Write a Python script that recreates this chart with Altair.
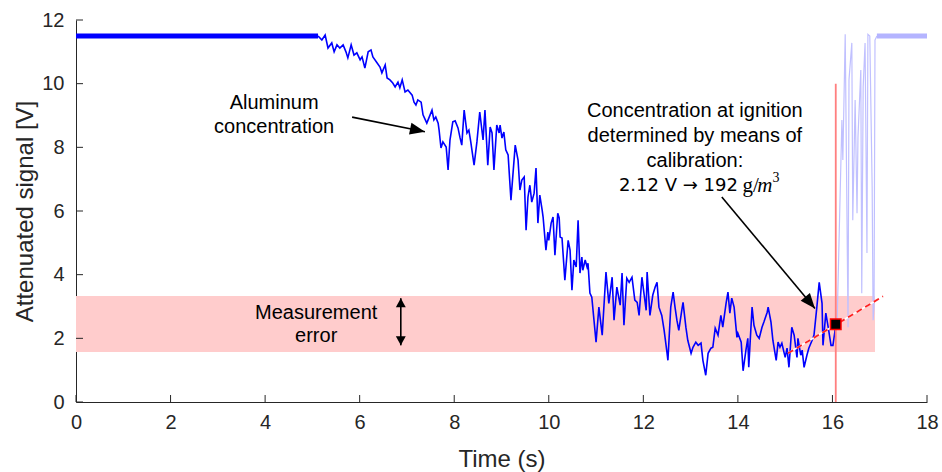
import altair as alt
import pandas as pd

# ---------------- data ----------------
t_main = [5.12,5.20,5.27,5.33,5.41,5.46,5.52,5.58,5.65,5.71,
          5.75,5.82,5.88,5.94,6.01,6.05,6.11,6.18,6.24,6.28,
          6.37,6.43,6.47,6.54,6.58,6.64,6.70,6.75,6.81,6.85,
          6.90,6.96,7.02,7.11,7.15,7.19,7.23,7.30,7.34,7.42,
          7.49,7.53,7.57,7.61,7.66,7.68,7.72,7.76,7.83,7.87,
          7.91,7.97,8.02,8.08,8.12,8.16,8.21,8.27,8.31,8.35,
          8.42,8.48,8.54,8.61,8.65,8.71,8.76,8.80,8.84,8.90,
          8.95,8.97,9.01,9.05,9.09,9.14,9.20,9.29,9.35,9.39,
          9.43,9.48,9.52,9.56,9.60,9.64,9.69,9.73,9.77,9.81,
          9.86,9.88,9.94,9.98,10.00,10.05,10.09,10.13,10.19,10.22,
          10.24,10.28,10.34,10.41,10.45,10.49,10.53,10.58,10.62,10.66,
          10.70,10.72,10.77,10.81,10.83,10.87,10.91,11.00,11.06,11.13,
          11.21,11.27,11.34,11.38,11.44,11.51,11.55,11.59,11.65,11.70,
          11.76,11.82,11.87,11.91,11.97,12.01,12.06,12.08,12.14,12.20,
          12.25,12.29,12.33,12.39,12.44,12.50,12.52,12.58,12.63,12.67,
          12.71,12.75,12.82,12.84,12.90,12.94,13.01,13.05,13.11,13.16,
          13.22,13.26,13.32,13.37,13.43,13.47,13.52,13.58,13.64,13.68,
          13.75,13.79,13.83,13.87,13.92,13.98,14.00,14.07,14.11,14.17,
          14.21,14.23,14.30,14.34,14.40,14.45,14.51,14.55,14.62,14.64,
          14.70,14.74,14.81,14.85,14.89,14.93,15.00,15.04,15.08,15.14,
          15.19,15.25,15.27,15.33,15.36,15.40,15.46,15.50,15.57,15.61,
          15.67,15.72,15.78,15.80,15.86,15.91,15.97,16.01,16.05,16.07]
v_main = [11.50,11.37,11.53,11.12,11.28,11.00,11.22,11.12,11.22,11.00,
          10.81,11.22,10.90,10.97,10.75,10.84,10.49,11.00,11.06,10.84,
          10.65,10.52,10.34,10.59,10.18,10.12,10.02,9.90,10.05,9.87,
          10.12,9.74,9.80,9.64,9.42,9.33,9.49,9.42,9.02,8.76,
          9.02,9.17,8.86,8.95,8.76,8.54,7.98,8.17,8.01,7.29,
          8.23,8.80,8.83,8.61,8.32,8.07,9.17,8.45,8.54,8.17,
          7.44,8.17,9.11,8.23,9.17,7.44,8.64,8.45,7.29,8.70,
          8.45,8.70,8.29,8.48,7.92,7.76,6.34,8.07,7.60,6.66,
          6.97,7.07,5.40,6.44,6.81,6.28,6.56,7.35,5.62,6.50,
          6.03,5.81,4.77,5.34,5.08,5.62,5.81,4.61,5.93,5.78,
          5.18,5.15,3.83,5.08,4.77,3.51,4.46,4.24,5.71,4.05,
          4.55,4.14,4.46,4.24,4.36,3.42,3.29,1.88,2.98,2.10,
          4.08,3.10,3.92,2.57,3.61,3.04,4.05,2.41,3.89,3.76,
          3.92,3.20,3.13,2.72,3.92,3.45,2.88,4.08,2.72,3.36,
          3.61,3.76,2.98,2.72,2.25,1.56,1.31,2.98,3.45,2.98,
          2.57,2.25,2.95,3.13,2.35,1.94,1.53,1.72,1.88,1.78,
          1.85,1.31,0.84,1.53,1.69,1.72,2.32,2.10,2.72,2.35,
          3.10,3.45,2.79,3.26,2.98,2.03,2.16,1.88,0.98,1.63,
          2.00,1.09,2.98,2.41,2.10,2.00,2.35,2.51,2.82,2.98,
          2.51,1.94,1.31,1.88,1.72,1.85,1.40,1.69,1.09,2.35,
          2.10,1.40,2.00,1.47,1.63,1.09,1.47,1.69,1.94,2.10,
          2.98,3.76,3.10,1.78,2.79,2.35,1.78,1.78,2.19,2.44]

# flat (saturated) part before the cloud arrives
t_flat = [0.0, 5.12]
v_flat = [11.5, 11.5]

# signal after ignition (faded)
t_after = [16.07,16.10,16.20,16.22,16.27,16.33,16.35,16.41,16.43,16.48,16.52,16.54,
           16.60,16.62,16.65,16.69,16.73,16.75,16.79,16.84,16.86,16.88,16.90,16.94]
v_after = [2.44,2.57,8.86,7.60,11.55,2.35,10.12,11.28,5.71,9.49,5.93,8.32,
           10.43,3.42,9.90,11.28,4.68,11.55,11.50,6.75,2.57,2.98,11.37,11.50]
t_after_flat = [16.94, 18.0]
v_after_flat = [11.5, 11.5]

# measurement-error band
band_t = [0.0, 16.9]
band_v = [1.57, 3.33]

# ignition
ign_t = [16.07]
ign_v = [2.44]
ign_top = [10.0]

# trend line through the ignition point
fit_t = [15.06, 17.07]
fit_v = [1.53, 3.32]

x_ticks = [0, 2, 4, 6, 8, 10, 12, 14, 16, 18]
y_ticks = [0, 2, 4, 6, 8, 10, 12]

# annotations (data coordinates)
ann_labels = ["Aluminum", "concentration", "Measurement", "error",
              "Concentration at ignition", "determined by means of", "calibration:"]
ann_t = [4.19, 4.19, 5.08, 5.08, 13.09, 13.09, 13.09]
ann_v = [9.39, 8.64, 2.79, 2.07, 9.14, 8.35, 7.57]

arrow_t0 = [5.84, 13.66]
arrow_v0 = [8.95, 6.44]
arrow_t1 = [7.38, 15.63]
arrow_v1 = [8.49, 2.94]
arrow_angle = [11.6, 50.0]

dbl_t = [6.87]
dbl_top = [3.26]
dbl_bot = [1.78]

# ---------------- chart ----------------
FONT = "Liberation Sans"
W, H = 851, 382
xs = alt.Scale(domain=[0, 18], nice=False, zero=False)
ys = alt.Scale(domain=[0, 12], nice=False, zero=False)

AX = alt.Axis(
    values=x_ticks, ticks=False, grid=False, labelFlush=False,
    domainColor="#262626", domainWidth=1,
    labelFont=FONT, labelFontSize=20, labelColor="#262626", labelPadding=10,
    title="Time (s)", titleFont=FONT, titleFontSize=24, titleFontWeight="normal",
    titleColor="#262626", titleX=W / 2, titleY=57, titleBaseline="middle")
AY = alt.Axis(
    values=y_ticks, ticks=False, grid=False, labelFlush=False,
    domainColor="#262626", domainWidth=1,
    labelFont=FONT, labelFontSize=20, labelColor="#262626", labelPadding=12,
    title="Attenuated signal [V]", titleFont=FONT, titleFontSize=24,
    titleFontWeight="normal", titleColor="#262626", titleAngle=270,
    titleX=-51, titleY=H / 2, titleBaseline="middle", titleAlign="center")

main_df = pd.DataFrame({"t": t_main, "v": v_main})
flat_df = pd.DataFrame({"t": t_flat, "v": v_flat})
after_df = pd.DataFrame({"t": t_after, "v": v_after})
after_flat_df = pd.DataFrame({"t": t_after_flat, "v": v_after_flat})
band_df = pd.DataFrame({"t": [band_t[0]], "t2": [band_t[1]], "v": [band_v[0]], "v2": [band_v[1]]})
ign_df = pd.DataFrame({"t": ign_t, "v": ign_v, "top": ign_top, "zero": [0.0]})
fit_df = pd.DataFrame({"t": fit_t, "v": fit_v})
xt_df = pd.DataFrame({"t": x_ticks})
yt_df = pd.DataFrame({"v": y_ticks})
ann_df = pd.DataFrame({"t": ann_t, "v": ann_v, "label": ann_labels})
arrow_df = pd.DataFrame({"t": arrow_t0, "v": arrow_v0, "t2": arrow_t1, "v2": arrow_v1,
                         "angle": arrow_angle})
dbl_df = pd.DataFrame({"t": dbl_t, "v": dbl_bot, "v2": dbl_top})


def X(f="t"):
    return alt.X(f + ":Q", scale=xs, axis=AX)


def Y(f="v"):
    return alt.Y(f + ":Q", scale=ys, axis=AY)


band = alt.Chart(band_df).mark_rect(color="#ffcccc").encode(
    x=X(), x2="t2:Q", y=Y(), y2="v2:Q")

after_line = alt.Chart(after_df).mark_line(color="#c0c0ff", strokeWidth=1.2).encode(x=X(), y=Y())
after_flat = alt.Chart(after_flat_df).mark_line(color="#b4b4ff", strokeWidth=5).encode(x=X(), y=Y())
flat_line = alt.Chart(flat_df).mark_line(color="#0000ff", strokeWidth=5).encode(x=X(), y=Y())
main_line = alt.Chart(main_df).mark_line(color="#0000ff", strokeWidth=1.6).encode(x=X(), y=Y())

fit_white = alt.Chart(fit_df).mark_line(color="white", strokeWidth=1.8).encode(x=X(), y=Y())
fit_red = alt.Chart(fit_df).mark_line(color="#ff2020", strokeWidth=1.8, strokeDash=[6, 4]).encode(x=X(), y=Y())

ign_rule = alt.Chart(ign_df).mark_rule(color="#ff7f7f", strokeWidth=1.8).encode(
    x=X(), y=Y("zero"), y2="top:Q")
marker = alt.Chart(ign_df).mark_point(shape="square", filled=True, fill="black",
                                      stroke="#ff0000", strokeWidth=1.5, size=110,
                                      opacity=1).encode(x=X(), y=Y())

xticks = alt.Chart(xt_df).mark_rule(color="#262626", strokeWidth=1).encode(
    x=X(), y=alt.value(H), y2=alt.value(H - 7))
yticks = alt.Chart(yt_df).mark_rule(color="#262626", strokeWidth=1).encode(
    y=Y(), x=alt.value(0), x2=alt.value(7))

texts = alt.Chart(ann_df).mark_text(font=FONT, fontSize=20, color="black",
                                    align="center", baseline="middle").encode(
    x=X(), y=Y(), text="label:N")

# last line of the calibration annotation (mixed fonts)
l4a = alt.Chart(pd.DataFrame({"t": [14.00], "v": [6.78], "label": ["2.12 V \u2192 192"]})).mark_text(
    font="DejaVu Sans", fontSize=18, color="black", align="right", baseline="middle").encode(
    x=X(), y=Y(), text="label:N")
l4b = alt.Chart(pd.DataFrame({"t": [14.10], "v": [6.78], "label": ["g/"]})).mark_text(
    font="Liberation Serif", fontSize=21, color="black", align="left", baseline="middle").encode(
    x=X(), y=Y(), text="label:N")
l4c = alt.Chart(pd.DataFrame({"t": [14.41], "v": [6.78], "label": ["m"]})).mark_text(
    font="Liberation Serif", fontSize=21, fontStyle="italic", color="black", align="left",
    baseline="middle").encode(x=X(), y=Y(), text="label:N")
l4d = alt.Chart(pd.DataFrame({"t": [14.73], "v": [7.05], "label": ["3"]})).mark_text(
    font="Liberation Serif", fontSize=14, color="black", align="left", baseline="middle").encode(
    x=X(), y=Y(), text="label:N")

HEAD = "M 0 0 L -1 -0.4 L -1 0.4 Z"
HEAD2 = "M 0 0 L -1 -0.55 L -1 0.55 Z"
arrow_shaft = alt.Chart(arrow_df).mark_rule(color="black", strokeWidth=1.6).encode(
    x=X(), y=Y(), x2="t2:Q", y2="v2:Q")
arrow_head1 = alt.Chart(arrow_df.iloc[[0]]).mark_point(
    shape=HEAD, filled=True, color="black", size=900, opacity=1, angle=arrow_angle[0]).encode(
    x=X("t2"), y=Y("v2"))
arrow_head2 = alt.Chart(arrow_df.iloc[[1]]).mark_point(
    shape=HEAD, filled=True, color="black", size=900, opacity=1, angle=arrow_angle[1]).encode(
    x=X("t2"), y=Y("v2"))

dbl_shaft = alt.Chart(dbl_df).mark_rule(color="black", strokeWidth=1.6).encode(
    x=X(), y=Y(), y2="v2:Q")
dbl_up = alt.Chart(dbl_df).mark_point(shape=HEAD2, filled=True, color="black", size=324,
                                      opacity=1, angle=270).encode(x=X(), y=Y("v2"))
dbl_down = alt.Chart(dbl_df).mark_point(shape=HEAD2, filled=True, color="black", size=324,
                                        opacity=1, angle=90).encode(x=X(), y=Y())

chart = alt.layer(
    band, after_line, after_flat, flat_line, main_line, fit_white, fit_red,
    ign_rule, marker, xticks, yticks, texts, l4a, l4b, l4c, l4d,
    arrow_shaft, arrow_head1, arrow_head2, dbl_shaft, dbl_up, dbl_down,
).properties(
    width=W, height=H,
    autosize=alt.AutoSizeParams(type="none"),
    padding={"left": 76, "top": 20, "right": 15, "bottom": 70},
    background="white",
).configure_view(stroke=None)

chart.save("out.html", embed_options={"renderer": "svg", "actions": False})
